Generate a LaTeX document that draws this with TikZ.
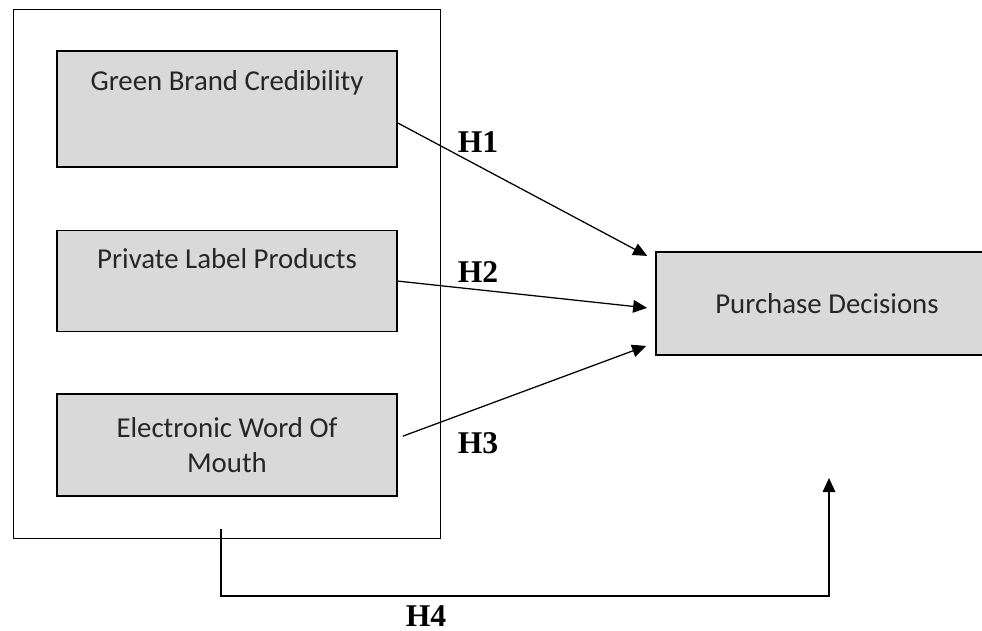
\documentclass[tikz,border=0pt]{standalone}
\usepackage{fontspec}
\setmainfont{Carlito}
\newfontfamily\hypfont{Liberation Serif}
\usepackage{xcolor}
\usepackage{tikz}
\usetikzlibrary{positioning,arrows.meta,fit}
\definecolor{boxgray}{HTML}{D9D9D9}
\definecolor{boxtext}{HTML}{262626}

\begin{document}
\begin{tikzpicture}[x=0.025cm,y=-0.025cm,box/.style={draw,line width=1.1pt,fill=boxgray,align=center,
  inner sep=0pt,minimum width=8.5cm,text=boxtext,font=\fontsize{20.5}{25}\selectfont},
  hyp/.style={font=\hypfont\bfseries\fontsize{22.5}{26}\selectfont},
  arr/.style={-{Triangle[length=10pt,width=9pt]},line width=0.9pt},node distance=1.55cm]
\useasboundingbox (0,0) rectangle (982,631);
\node[box,text height=1cm,text depth=1.9cm] (gbc) at (227,109) {Green Brand Credibility};
\node[box,below=of gbc,text height=0.95cm,text depth=1.575cm] (plp) {Private Label Products};
\node[box,below=1.525cm of plp,minimum height=2.55cm] (ewom) {Electronic Word Of\\Mouth};
\node[draw,line width=0.6pt,fit=(gbc)(plp)(ewom),inner xsep=1.075cm,inner ysep=1.025cm] (grp) {};
\node[box,minimum width=8.55cm,minimum height=2.575cm] (pd) at (827,303.5) {Purchase Decisions};
\coordinate (h4start) at (221,529);
\coordinate (h4turn) at (221,596);
\coordinate (h4tip) at (829,478);
\draw[arr] ([yshift=-0.35cm]gbc.east) -- ([xshift=-0.2cm,yshift=1.19cm]pd.west);
\draw[arr] (plp.east) -- ([xshift=-0.2cm,yshift=-0.11cm]pd.west);
\draw[arr] ([xshift=0.125cm,yshift=0.225cm]ewom.east) -- ([xshift=-0.225cm,yshift=-1.06cm]pd.west);
\draw[arr] (h4start) -- (h4turn) -| (h4tip);
\node[hyp] (h1) at (478,142) {H1};
\node[hyp] (h2) at (478,272) {H2};
\node[hyp] (h3) at (478,443) {H3};
\node[hyp,inner sep=0pt,anchor=base] (h4) at (426,626) {H4};
\end{tikzpicture}
\end{document}
